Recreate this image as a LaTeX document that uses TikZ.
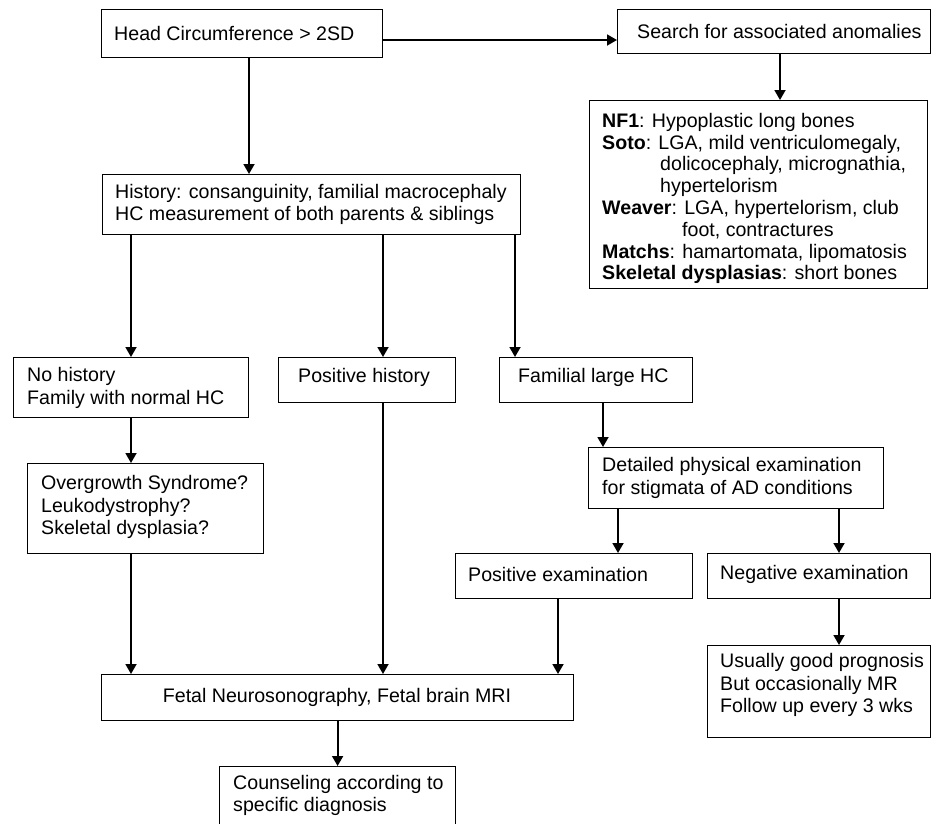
\documentclass[tikz,border=0pt]{standalone}
\usepackage{fontspec}
\setmainfont{Liberation Sans}
\usetikzlibrary{arrows.meta}
\begin{document}
\begin{tikzpicture}[x=1pt,y=-1pt,
  box/.style={draw,line width=1.2pt,inner sep=0pt,anchor=north west},
  txt/.style={inner sep=0pt,anchor=west,align=left,font=\fontsize{19.6}{22.5}\selectfont},
  arr/.style={line width=1.8pt,-{Triangle[length=10pt,width=11pt]}}]
\useasboundingbox (0,0) rectangle (932,823);
\clip (0,0) rectangle (932,823);
% boxes
\node[box,minimum width=281pt,minimum height=48pt] (hc) at (101,9) {};
\node[box,minimum width=313pt,minimum height=44pt] (search) at (617,9) {};
\node[box,minimum width=338pt,minimum height=188pt] (nf) at (589,100) {};
\node[box,minimum width=418pt,minimum height=60pt] (hist) at (102,174) {};
\node[box,minimum width=235pt,minimum height=60pt] (noh) at (13,357) {};
\node[box,minimum width=177pt,minimum height=45pt] (posh) at (278,357) {};
\node[box,minimum width=193pt,minimum height=45pt] (fam) at (499,357) {};
\node[box,minimum width=236pt,minimum height=90pt] (over) at (27,463) {};
\node[box,minimum width=295pt,minimum height=61pt] (det) at (588,447) {};
\node[box,minimum width=237pt,minimum height=45pt] (pexam) at (455,553) {};
\node[box,minimum width=223pt,minimum height=45pt] (nexam) at (707,553) {};
\node[box,minimum width=223pt,minimum height=92pt] (usu) at (707,645) {};
\node[box,minimum width=472pt,minimum height=46pt] (fetal) at (101,674) {};
\node[box,minimum width=236pt,minimum height=74pt] (coun) at (219,766) {};
% texts
\node[txt] (hct) at (114,33) {Head Circumference > 2SD};
\node[txt] (searcht) at (637,31) {Search for associated anomalies};
\begin{scope}
\clip (589,100) rectangle (927,284);
\node[txt,font=\fontsize{19.6}{21.8}\selectfont] (nft) at (602,198.5) {\textbf{NF1}: Hypoplastic long bones\\
\textbf{Soto}: LGA, mild ventriculomegaly,\\
\hspace*{58pt}dolicocephaly, micrognathia,\\
\hspace*{58pt}hypertelorism\\
\textbf{Weaver}: LGA, hypertelorism, club\\
\hspace*{80pt}foot, contractures\\
\textbf{Matchs}: hamartomata, lipomatosis\\
\textbf{Skeletal dysplasias}: short bones};
\end{scope}
\node[txt] (histt) at (115,204.5) {History: consanguinity, familial macrocephaly\\HC measurement of both parents \& siblings};
\node[txt] (noht) at (27,388) {No history\\Family with normal HC};
\node[txt] (posht) at (298,377) {Positive history};
\node[txt] (famt) at (518,377) {Familial large HC};
\node[txt] (overt) at (41,507) {Overgrowth Syndrome?\\Leukodystrophy?\\Skeletal dysplasia?};
\node[txt,font=\fontsize{19.6}{23}\selectfont] (dett) at (602,478) {Detailed physical examination\\for stigmata of AD conditions};
\node[txt] (pexamt) at (468,574) {Positive examination};
\node[txt] (nexamt) at (720,574) {Negative examination};
\node[txt] (usut) at (720,685) {Usually good prognosis\\But occasionally MR\\Follow up every 3 wks};
\node[txt,anchor=center] (fetalt) at (337,697) {Fetal Neurosonography, Fetal brain MRI};
\node[txt] (count) at (233,795.5) {Counseling according to\\specific diagnosis};
% column helpers
\coordinate (r40) at (0,40);
\coordinate (c131) at (131,0);
\coordinate (c249) at (249,0);
\coordinate (c383) at (383,0);
\coordinate (c515) at (515,0);
\coordinate (c558) at (558,0);
\coordinate (c603) at (603,0);
\coordinate (c618) at (618,0);
\coordinate (c780) at (780,0);
\coordinate (c839) at (839,0);
% connectors
\draw[arr] (hc.east |- r40) -- (search.west |- r40);
\draw[arr] (search.south -| c780) -- (nf.north -| c780);
\draw[arr] (hc.south -| c249) -- (hist.north -| c249);
\draw[arr] (hist.south -| c131) -- (noh.north -| c131);
\draw[arr] (hist.south -| c383) -- (posh.north -| c383);
\draw[arr] (hist.south -| c515) -- (fam.north -| c515);
\draw[arr] (noh.south -| c131) -- (over.north -| c131);
\draw[arr] (fam.south -| c603) -- (det.north -| c603);
\draw[arr] (det.south -| c618) -- (pexam.north -| c618);
\draw[arr] (det.south -| c839) -- (nexam.north -| c839);
\draw[arr] (over.south -| c131) -- (fetal.north -| c131);
\draw[arr] (posh.south -| c383) -- (fetal.north -| c383);
\draw[arr] (pexam.south -| c558) -- (fetal.north -| c558);
\draw[arr] (nexam.south -| c839) -- (usu.north -| c839);
\draw[arr] (fetal.south) -- (coun.north);
\end{tikzpicture}
\end{document}
